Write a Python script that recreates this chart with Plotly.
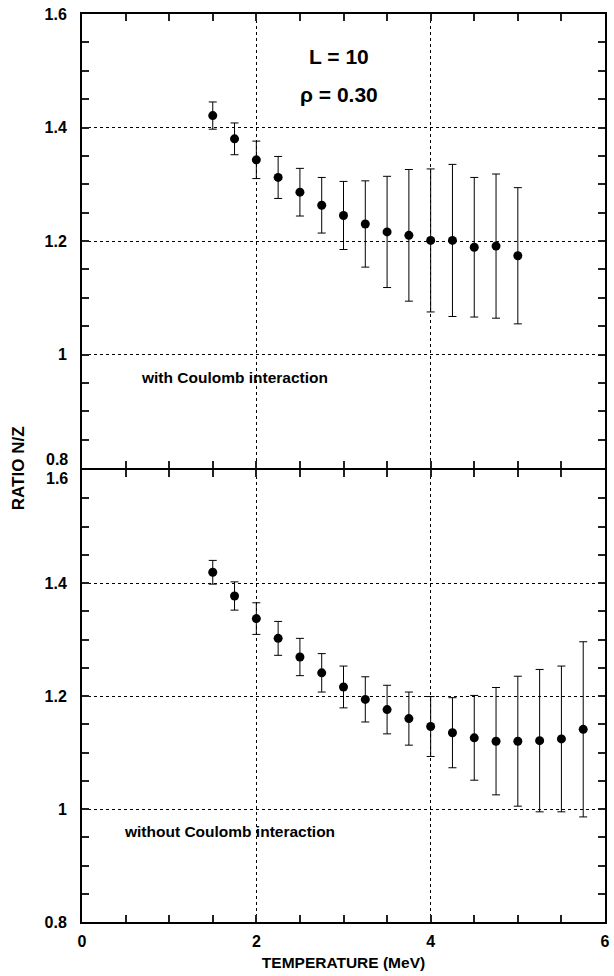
import plotly.graph_objects as go

# ---- data ----
temp_top = [1.5, 1.75, 2.0, 2.25, 2.5, 2.75, 3.0, 3.25, 3.5, 3.75, 4.0, 4.25, 4.5, 4.75, 5.0]
ratio_top = [1.421, 1.380, 1.343, 1.312, 1.286, 1.263, 1.245, 1.230, 1.216, 1.210, 1.201, 1.201, 1.189, 1.191, 1.174]
err_top = [0.024, 0.028, 0.033, 0.037, 0.042, 0.049, 0.060, 0.076, 0.098, 0.116, 0.126, 0.134, 0.123, 0.127, 0.120]

temp_bot = [1.5, 1.75, 2.0, 2.25, 2.5, 2.75, 3.0, 3.25, 3.5, 3.75, 4.0, 4.25, 4.5, 4.75, 5.0, 5.25, 5.5, 5.75]
ratio_bot = [1.419, 1.377, 1.337, 1.302, 1.269, 1.241, 1.216, 1.194, 1.176, 1.160, 1.146, 1.135, 1.126, 1.120, 1.120, 1.121, 1.124, 1.141]
err_bot = [0.021, 0.025, 0.028, 0.030, 0.033, 0.034, 0.037, 0.040, 0.043, 0.047, 0.053, 0.062, 0.075, 0.095, 0.115, 0.126, 0.129, 0.155]

y_tickvals_top = [1.0, 1.2, 1.4, 1.6]
y_ticktext_top = ["1", "1.2", "1.4", "1.6"]
y_tickvals_bot = [0.8, 1.0, 1.2, 1.4]
y_ticktext_bot = ["0.8", "1", "1.2", "1.4"]

TICKFONT = dict(family="Liberation Sans", size=16, color="black", weight="bold")
TEXTFONT = dict(family="Liberation Sans", size=15.5, color="black", weight="bold")
BIGFONT = dict(family="Liberation Sans", size=21, color="black", weight="bold")

fig = go.Figure()

marker = dict(color="black", size=9)
fig.add_trace(go.Scatter(
    x=temp_top, y=ratio_top, mode="markers", marker=marker,
    error_y=dict(type="data", array=err_top, color="black", thickness=1, width=4),
    xaxis="x", yaxis="y", showlegend=False))
fig.add_trace(go.Scatter(
    x=temp_bot, y=ratio_bot, mode="markers", marker=marker,
    error_y=dict(type="data", array=err_bot, color="black", thickness=1, width=4),
    xaxis="x2", yaxis="y2", showlegend=False))

TICK = dict(ticks="inside", ticklen=7, tickwidth=1.5, tickcolor="#222222")

common_x = dict(
    range=[0, 6], tickmode="linear", tick0=0, dtick=2,
    showline=True, linewidth=2, linecolor="black", mirror="ticks",
    showgrid=True, gridcolor="black", gridwidth=1, griddash="dot",
    zeroline=False,
    minor=dict(TICK, tickmode="linear", tick0=0, dtick=0.5),
    tickfont=TICKFONT,
    **TICK,
)
common_y = dict(
    range=[0.8, 1.6], tickmode="array",
    showline=True, linewidth=2, linecolor="black", mirror="ticks",
    showgrid=True, gridcolor="black", gridwidth=1, griddash="dot",
    zeroline=False,
    minor=dict(TICK, tickmode="linear", tick0=0.8, dtick=0.05),
    tickfont=TICKFONT, ticklabelstandoff=10,
    **TICK,
)

gap = 2 / 908  # lets the two 2px frame lines at the panel boundary overlap

fig.update_layout(
    width=614, height=976,
    margin=dict(l=82, r=4, t=14, b=54),
    paper_bgcolor="white", plot_bgcolor="white",
    xaxis=dict(common_x, domain=[0, 1], anchor="y", showticklabels=False),
    xaxis2=dict(common_x, domain=[0, 1], anchor="y2", matches="x",
                ticklabelstandoff=4,
                title=dict(text="TEMPERATURE (MeV)", font=TEXTFONT, standoff=8)),
    yaxis=dict(common_y, domain=[0.5, 1], anchor="x",
               tickvals=y_tickvals_top, ticktext=y_ticktext_top),
    yaxis2=dict(common_y, domain=[0, 0.5 - gap], anchor="x2",
                tickvals=y_tickvals_bot, ticktext=y_ticktext_bot),
)

annotations = [
    dict(text="L = 10", x=2.95, y=1.525, xref="x", yref="y", showarrow=False, font=BIGFONT),
    dict(text="ρ = 0.30", x=2.95, y=1.459, xref="x", yref="y", showarrow=False, font=BIGFONT),
    dict(text="with Coulomb interaction", x=0.65, y=0.96, xref="x", yref="y",
         xanchor="left", showarrow=False, font=TEXTFONT),
    dict(text="without Coulomb interaction", x=0.455, y=0.96, xref="x2", yref="y2",
         xanchor="left", showarrow=False, font=TEXTFONT),
    # boundary tick labels, offset so they do not overlap
    dict(text="0.8", x=-0.022, y=0.8, xref="paper", yref="y", xanchor="right",
         yanchor="middle", yshift=9, showarrow=False, font=TICKFONT),
    dict(text="1.6", x=-0.022, y=1.6, xref="paper", yref="y2", xanchor="right",
         yanchor="middle", yshift=-8, showarrow=False, font=TICKFONT),
    dict(text="RATIO N/Z", x=-0.122, y=0.5, xref="paper", yref="paper",
         xanchor="center", yanchor="middle", textangle=-90, showarrow=False,
         font=dict(family="Liberation Sans", size=17, color="black", weight="bold")),
]
fig.update_layout(annotations=annotations)

fig.write_html("out.html")
